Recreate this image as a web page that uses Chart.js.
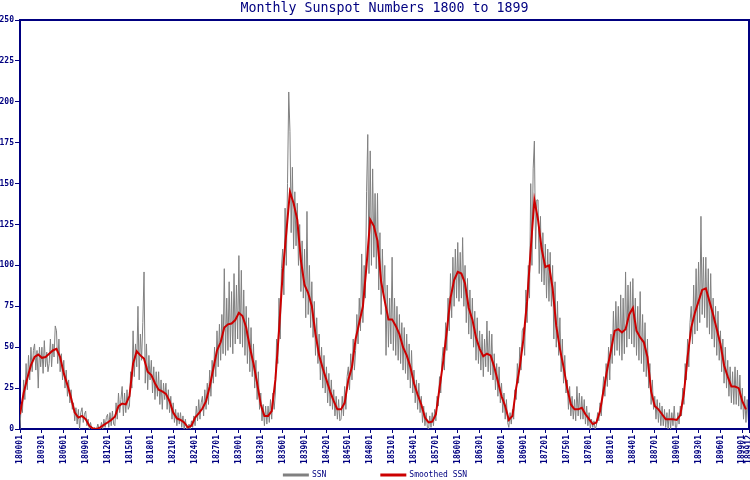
<!DOCTYPE html>
<html>
<head>
<meta charset="utf-8">
<script src="https://cdn.jsdelivr.net/npm/chart.js@4"></script>
<style>
  body { margin: 0; background: #fff; }
  #wrap { width: 750px; height: 480px; }
</style>
</head>
<body>
<div id="wrap"><canvas id="sunspots" width="750" height="480"></canvas></div>
<script>
// x tick labels (YYYYMM), every 3 years plus the last month
const tickLabels = ['180001','180301','180601','180901','181201','181501','181801','182101','182401','182701',
  '183001','183301','183601','183901','184201','184501','184801','185101','185401','185701',
  '186001','186301','186601','186901','187201','187501','187801','188101','188401','188701',
  '189001','189301','189601','189901','189912'];

const yTicksStep = 25;
const yMax = 250;

// monthly SSN, every 2 months (Jan, Mar, May, Jul, Sep, Nov), one row per year
const ssn = [
  0,15,10,30,18,40,  24,45,30,50,35,48,  52,36,48,25,50,38,  50,34,54,38,47,35,  40,55,38,52,44,63,
  60,40,55,35,46,30,  42,25,36,20,30,16,  24,12,16,5,13,3,  12,0,10,13,4,9,  11,2,6,0,4,0,
  0,1,0,0,3,0,  0,4,0,6,1,7,  9,1,10,2,11,3,  2,16,6,22,10,18,  26,8,22,10,24,12,
  14,35,25,60,32,52,  38,75,30,58,42,65,  96,28,52,24,45,30,  42,22,38,18,35,20,  35,15,30,12,28,18,
  28,12,24,10,20,6,  16,4,12,2,10,3,  10,1,8,0,6,0,  0,3,0,5,1,8,  2,14,5,18,6,16,
  20,8,24,12,28,15,  36,20,42,28,50,32,  60,38,64,42,70,46,  98,45,80,48,90,50,  84,46,95,52,88,55,
  106,52,97,50,85,45,  75,40,68,35,62,32,  52,25,42,18,35,12,  22,5,15,2,14,3,  14,4,18,6,22,12,
  22,55,40,80,55,98,  110,82,135,100,150,206,  182,120,160,110,145,112,  138,100,125,84,115,80,  110,68,133,70,100,62,
  90,56,78,45,68,40,  58,30,50,25,45,22,  38,16,34,14,30,12,  24,8,20,6,18,5,  6,20,8,26,12,32,
  38,24,46,30,55,36,  48,70,52,80,60,107,  65,100,80,145,180,95,  170,100,159,105,144,98,  144,85,120,70,110,81,
  100,45,88,50,80,52,  105,48,80,45,75,42,  70,40,65,36,62,34,  58,30,52,25,48,22,  36,16,30,12,28,10,
  20,4,14,2,10,1,  0,8,1,10,2,12,  5,20,14,32,22,42,  50,36,65,48,80,60,  95,68,105,75,110,80,
  114,78,108,80,117,75,  100,65,92,58,85,55,  80,50,72,42,68,40,  60,36,58,32,55,38,  66,35,60,33,58,30,
  46,24,40,20,38,16,  28,10,22,6,18,4,  1,10,3,12,6,24,  18,40,28,50,36,60,  62,45,85,65,100,80,
  150,100,159,176,110,140,  140,95,130,90,120,88,  113,80,110,78,108,75,  100,55,90,50,78,45,  68,35,55,28,45,22,
  30,12,26,8,20,6,  18,5,26,8,22,6,  20,6,18,3,14,2,  10,0,6,1,5,0,  2,10,5,16,8,22,
  32,20,40,26,50,30,  58,40,72,45,78,48,  75,45,82,42,80,46,  96,50,88,55,90,52,  92,50,80,45,75,42,
  84,40,70,35,65,32,  55,25,40,15,30,12,  20,6,18,4,16,2,  14,2,12,1,10,0,  12,0,10,2,14,1,
  1,10,3,14,8,25,  15,40,30,55,38,65,  75,52,88,58,98,60,  102,65,130,70,105,68,  105,62,98,58,95,55,
  80,50,75,45,72,42,  60,35,55,28,50,25,  42,20,38,16,35,15,  38,15,36,14,33,12,  25,6,20,4,18,5
];

// smoothed SSN, every 6 months (Jan, Jul)
const smoothed = [
  9,22, 31,39, 44,45.5, 43.5,44, 46,48, 49,44, 34,27, 19,10, 7,8, 6,2,
  0.3,0, 1,2.5, 4,5.5, 7.5,14, 15.5,15, 20,40, 47.5,45, 43,35, 33,28, 24,23,
  21.5,17, 10,6.5, 5.5,4, 1,2, 7,9.6, 12.5,17, 26,37, 48,53, 62,64, 64.5,66.6,
  71,69, 62,50, 40,28, 15,8, 8,11, 30,60, 95,120, 145,138, 128,103, 88,83,
  75,58, 45,37, 30,23, 17,12, 12,16, 30,38, 55,65, 75,100, 128,124, 115,90,
  78,67, 67,63, 58,50, 45,38, 28,21, 15,7, 4,4.5, 9,25, 41,60, 80,91,
  96,95, 89,74, 67,56, 49,44.5, 46,45, 38,29, 20,14, 5.5,8, 25,38, 55,78,
  110,140, 128,110, 99,100, 86,63, 49,38, 25,15, 12,12, 13,9, 6,3, 4,11,
  24,37, 48,60, 61,59, 61,70, 74,60, 56,53, 44,23, 14,12, 9,6, 6,6,
  5.5,8.5, 22,44, 62,71, 78,85, 86,78, 70,61, 52,39, 32,26, 26,25, 17,12
];

const NAVY = '#000080';
const MONO = '"DejaVu Sans Mono", "Liberation Mono", monospace';

function monthIndex(lbl) {
  return (parseInt(lbl.slice(0, 4)) - 1800) * 12 + parseInt(lbl.slice(4, 6)) - 1;
}

const ssnPoints = ssn.map((v, i) => ({ x: i * 2, y: v }));
const smoothPoints = smoothed.map((v, i) => ({ x: i * 6, y: v }));

// top/right frame, title over the plot, and a hand-spaced legend
const extras = {
  id: 'extras',
  afterDraw(chart) {
    const { ctx, chartArea: a } = chart;
    ctx.save();
    ctx.strokeStyle = NAVY;
    ctx.lineWidth = 2;
    ctx.beginPath();
    ctx.moveTo(a.left, a.top);
    ctx.lineTo(a.right, a.top);
    ctx.lineTo(a.right, a.bottom);
    ctx.stroke();

    ctx.fillStyle = NAVY;
    ctx.font = '13.3px ' + MONO;
    ctx.textAlign = 'center';
    ctx.textBaseline = 'middle';
    ctx.fillText('Monthly Sunspot Numbers 1800 to 1899', (a.left + a.right) / 2, 9);

    // legend
    ctx.font = '8px ' + MONO;
    ctx.textAlign = 'left';
    const lineW = 26, gap = 3, spacing = 54, ly = 475;
    const items = chart.data.datasets.map(d => ({ label: d.label, color: d.borderColor, w: lineW + gap + ctx.measureText(d.label).width }));
    const total = items.reduce((s, it) => s + it.w, 0) + spacing * (items.length - 1);
    let x = chart.width / 2 - total / 2;
    items.forEach(it => {
      ctx.strokeStyle = it.color;
      ctx.lineWidth = 3;
      ctx.beginPath();
      ctx.moveTo(x, ly);
      ctx.lineTo(x + lineW, ly);
      ctx.stroke();
      ctx.fillStyle = NAVY;
      ctx.fillText(it.label, x + lineW + gap, ly);
      x += it.w + spacing;
    });
    ctx.restore();
  }
};

new Chart(document.getElementById('sunspots'), {
  type: 'line',
  data: {
    datasets: [
      {
        label: 'SSN',
        data: ssnPoints,
        borderColor: '#808080',
        backgroundColor: '#808080',
        borderWidth: 1,
        pointRadius: 0,
        tension: 0,
        order: 1
      },
      {
        label: 'Smoothed SSN',
        data: smoothPoints,
        borderColor: '#cc0000',
        backgroundColor: '#cc0000',
        borderWidth: 2,
        pointRadius: 0,
        tension: 0,
        order: 0
      }
    ]
  },
  options: {
    responsive: false,
    animation: false,
    layout: { padding: { top: 20, right: 1, left: 0, bottom: 0 } },
    plugins: {
      legend: { display: false },
      title: { display: false },
      tooltip: { enabled: false }
    },
    scales: {
      x: {
        type: 'linear',
        min: 0,
        max: monthIndex(tickLabels[tickLabels.length - 1]),
        afterBuildTicks: (scale) => {
          scale.ticks = tickLabels.map(l => ({ value: monthIndex(l) }));
        },
        afterFit: (scale) => {
          scale.height = 51;
          scale.paddingLeft = 0;
          scale.paddingRight = 0;
        },
        ticks: {
          autoSkip: false,
          minRotation: 90,
          maxRotation: 90,
          padding: 2,
          color: NAVY,
          font: { family: MONO, size: 8, weight: 'bold' },
          callback: (v, i) => tickLabels[i]
        },
        grid: { drawOnChartArea: false, tickLength: 4, color: NAVY, lineWidth: 1 },
        border: { color: NAVY, width: 2 }
      },
      y: {
        min: 0,
        max: yMax,
        afterFit: (scale) => {
          scale.width = 20;
          scale.paddingTop = 0;
          scale.paddingBottom = 0;
        },
        ticks: {
          stepSize: yTicksStep,
          padding: 1,
          color: NAVY,
          font: { family: MONO, size: 8, weight: 'bold' }
        },
        grid: { drawOnChartArea: false, tickLength: 5, color: NAVY, lineWidth: 1 },
        border: { color: NAVY, width: 2 }
      }
    }
  },
  plugins: [extras]
});
</script>
</body>
</html>
